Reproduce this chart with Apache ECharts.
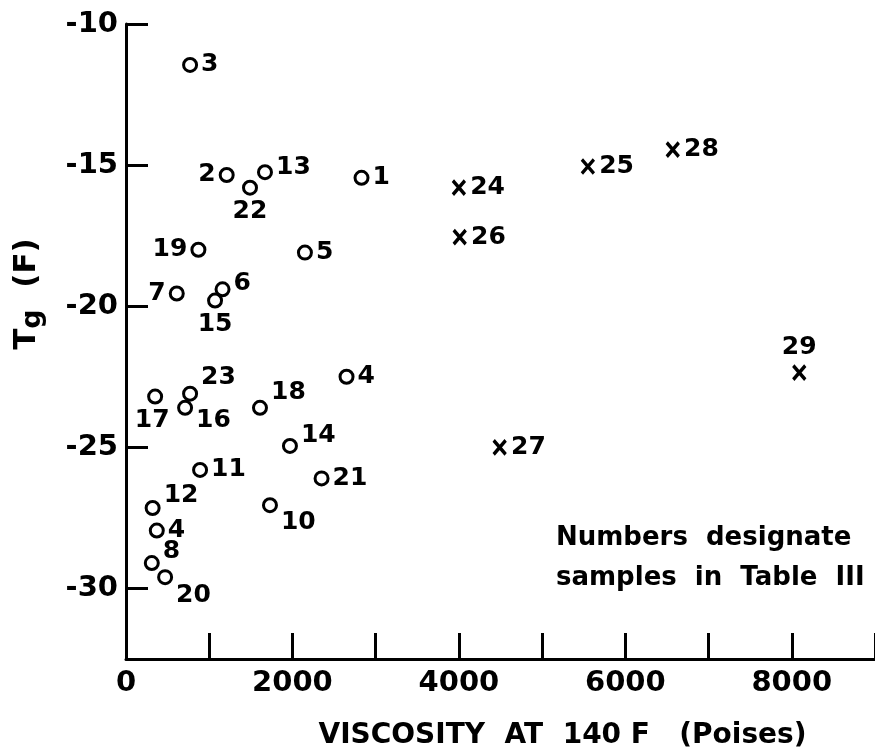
<!DOCTYPE html>
<html>
<head>
<meta charset="UTF-8">
<title>Tg vs viscosity</title>
<script src="https://cdn.jsdelivr.net/npm/echarts@6/dist/echarts.min.js"></script>
<style>
  html, body { margin: 0; padding: 0; background: #fff; }
  #main { width: 875px; height: 755px; }
</style>
</head>
<body>
<div id="main"></div>
<script>
// samples shown as circles
var circleIds = ['1', '2', '3', '4', '5', '6', '7', '8', '4', '10', '11', '12', '13', '14', '15', '16', '17', '18', '19', '20', '21', '22', '23'];
var circleVisc = [2830, 1210, 770, 2650, 2150, 1160, 610, 310, 370, 1730, 890, 320, 1670, 1970, 1070, 710, 350, 1610, 870, 470, 2350, 1490, 770];
var circleTg = [-15.45, -15.35, -11.45, -22.5, -18.1, -19.4, -19.55, -29.1, -27.95, -27.05, -25.8, -27.15, -15.25, -24.95, -19.8, -23.6, -23.2, -23.6, -18.0, -29.6, -26.1, -15.8, -23.1];

// samples shown as crosses
var crossIds = ['24', '25', '26', '27', '28', '29'];
var crossVisc = [4000, 5550, 4010, 4490, 6570, 8090];
var crossTg = [-15.8, -15.05, -17.55, -25.0, -14.45, -22.35];

var xTicks = [0, 2000, 4000, 6000, 8000];
var yTicks = [-30, -25, -20, -15, -10];

// where each point label sits: [position, dx, dy]
var circleLabelSpot = [
  ['right', 0, 0], ['left', 0, 0], ['right', 0, 0], ['right', 0, 0], ['right', 0, 0],
  ['right', 0, -6], ['left', 0, 0], ['right', 0, -12], ['right', 0, 0], ['right', 0, 17],
  ['right', 0, 0], ['right', 0, -13], ['right', 0, -5], ['right', 0, -10], ['bottom', 0, 0],
  ['right', 0, 13], ['bottom', -3, 0], ['right', 0, -15], ['left', 0, 0], ['right', 0, 18],
  ['right', 0, 0], ['bottom', 0, 0], ['right', 0, -16]
];
var crossLabelSpot = [
  ['right', 0, 0], ['right', 0, 0], ['right', 0, 0], ['right', 0, 0], ['right', 0, 0], ['top', 0, 0]
];

var FONT = 'DejaVu Sans';

function buildPoints(ids, xs, ys, spots) {
  var out = [];
  for (var i = 0; i < ids.length; i++) {
    var s = spots[i];
    out.push({
      value: [xs[i], ys[i]],
      name: ids[i],
      label: { position: s[0], offset: [s[1], s[2]] }
    });
  }
  return out;
}

var pointLabel = {
  show: true,
  formatter: '{b}',
  distance: 3,
  color: '#000',
  fontFamily: FONT,
  fontWeight: 'bold',
  fontSize: 25
};

var chart = echarts.init(document.getElementById('main'));
chart.setOption({
  animation: false,
  backgroundColor: '#fff',
  grid: { left: 126, right: 0, top: 24, bottom: 95, containLabel: false },
  xAxis: {
    type: 'value',
    min: 0,
    max: 9000,
    interval: 1000,
    splitLine: { show: false },
    axisLine: { lineStyle: { color: '#000', width: 3 } },
    axisTick: { inside: true, length: 26, lineStyle: { color: '#000', width: 3 } },
    axisLabel: {
      customValues: xTicks,
      formatter: function (v) { return String(v); },
      margin: 10,
      color: '#000',
      fontFamily: FONT,
      fontWeight: 'bold',
      fontSize: 29
    },
    name: 'VISCOSITY  AT  140 F   (Poises)',
    nameLocation: 'middle',
    nameGap: 63,
    nameTextStyle: {
      color: '#000',
      fontFamily: FONT,
      fontWeight: 'bold',
      fontSize: 28,
      padding: [0, 0, 0, 124]
    }
  },
  yAxis: {
    type: 'value',
    min: -32.5,
    max: -10,
    splitLine: { show: false },
    axisLine: { lineStyle: { color: '#000', width: 3 } },
    axisTick: { inside: true, length: 22, customValues: yTicks, lineStyle: { color: '#000', width: 3 } },
    axisLabel: {
      customValues: yTicks,
      formatter: function (v) { return String(v); },
      margin: 8,
      color: '#000',
      fontFamily: FONT,
      fontWeight: 'bold',
      fontSize: 29
    },
    name: '{t|T}{g|g}  {t|(F)}',
    nameLocation: 'middle',
    nameGap: 80,
    nameRotate: 90,
    nameTextStyle: {
      color: '#000',
      fontFamily: FONT,
      fontWeight: 'bold',
      fontSize: 31,
      padding: [0, 0, 0, 95],
      rich: {
        t: { fontFamily: FONT, fontWeight: 'bold', fontSize: 31, color: '#000' },
        g: { fontFamily: FONT, fontWeight: 'bold', fontSize: 27, color: '#000', padding: [12, 0, 0, 0] }
      }
    }
  },
  graphic: [{
    type: 'text',
    left: 556,
    top: 518,
    style: {
      text: 'Numbers  designate\nsamples  in  Table  III',
      fill: '#000',
      font: 'bold 26px "DejaVu Sans"',
      lineHeight: 40
    }
  }],
  series: [{
    type: 'scatter',
    symbol: 'circle',
    symbolSize: 13,
    itemStyle: { color: 'rgba(0,0,0,0)', borderColor: '#000', borderWidth: 3, opacity: 1 },
    label: pointLabel,
    data: buildPoints(circleIds, circleVisc, circleTg, circleLabelSpot)
  }, {
    type: 'scatter',
    symbol: 'path://M0,0L10,12M10,0L0,12',
    symbolSize: [12, 14],
    itemStyle: { color: 'none', borderColor: '#000', borderWidth: 3.5, opacity: 1 },
    label: pointLabel,
    data: buildPoints(crossIds, crossVisc, crossTg, crossLabelSpot)
  }]
});
</script>
</body>
</html>
